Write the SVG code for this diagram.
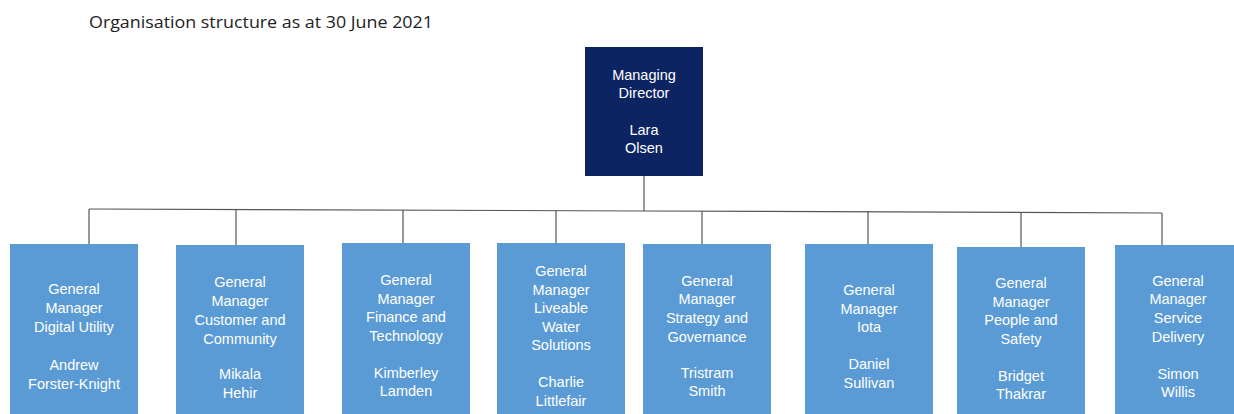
<svg xmlns="http://www.w3.org/2000/svg" width="1234" height="414" viewBox="0 0 1234 414">
<style>
.title{font-family:"Open Sans","Liberation Sans",sans-serif;font-size:16.5px;fill:#222}
.md{fill:#0c2461}
.gm{fill:#5b9bd5}
.t{font-family:"Liberation Sans",Arial,sans-serif;font-size:14.5px;fill:#fff;text-anchor:middle}
.c{stroke:#555;stroke-width:1.2;fill:none}
</style>
<rect width="1234" height="414" fill="#fff"/>
<text class="title" x="89" y="28" textLength="344" lengthAdjust="spacingAndGlyphs">Organisation structure as at 30 June 2021</text>
<g id="connectors">
<path class="c" d="M644 176V211"/>
<path class="c" d="M89 209L644 211L1162 213"/>
<path class="c" d="M89 209V244"/>
<path class="c" d="M236 209.5V245"/>
<path class="c" d="M403 210V243"/>
<path class="c" d="M556 210.5V243"/>
<path class="c" d="M702 211V244"/>
<path class="c" d="M868 211.5V244"/>
<path class="c" d="M1021 212V247"/>
<path class="c" d="M1162 213V245"/>
</g>
<g id="md">
<rect class="md" x="585" y="47" width="118" height="129"/>
<text class="t" x="644" y="80">Managing</text>
<text class="t" x="644" y="98">Director</text>
<text class="t" x="644" y="135">Lara</text>
<text class="t" x="644" y="153">Olsen</text>
</g>
<g id="gm1">
<rect class="gm" x="10" y="244" width="128" height="172"/>
<text class="t" x="74" y="294">General</text>
<text class="t" x="74" y="313">Manager</text>
<text class="t" x="74" y="332">Digital Utility</text>
<text class="t" x="74" y="370">Andrew</text>
<text class="t" x="74" y="389">Forster-Knight</text>
</g>
<g id="gm2">
<rect class="gm" x="176" y="245" width="128" height="171"/>
<text class="t" x="240" y="287">General</text>
<text class="t" x="240" y="306">Manager</text>
<text class="t" x="240" y="325">Customer and</text>
<text class="t" x="240" y="344">Community</text>
<text class="t" x="240" y="379">Mikala</text>
<text class="t" x="240" y="398">Hehir</text>
</g>
<g id="gm3">
<rect class="gm" x="342" y="243" width="128" height="173"/>
<text class="t" x="406" y="285">General</text>
<text class="t" x="406" y="304">Manager</text>
<text class="t" x="406" y="322">Finance and</text>
<text class="t" x="406" y="341">Technology</text>
<text class="t" x="406" y="378">Kimberley</text>
<text class="t" x="406" y="396">Lamden</text>
</g>
<g id="gm4">
<rect class="gm" x="497" y="243" width="128" height="173"/>
<text class="t" x="561" y="276">General</text>
<text class="t" x="561" y="295">Manager</text>
<text class="t" x="561" y="313">Liveable</text>
<text class="t" x="561" y="332">Water</text>
<text class="t" x="561" y="350">Solutions</text>
<text class="t" x="561" y="387">Charlie</text>
<text class="t" x="561" y="406">Littlefair</text>
</g>
<g id="gm5">
<rect class="gm" x="643" y="244" width="128" height="172"/>
<text class="t" x="707" y="286">General</text>
<text class="t" x="707" y="304">Manager</text>
<text class="t" x="707" y="323">Strategy and</text>
<text class="t" x="707" y="342">Governance</text>
<text class="t" x="707" y="378">Tristram</text>
<text class="t" x="707" y="396">Smith</text>
</g>
<g id="gm6">
<rect class="gm" x="805" y="244" width="128" height="172"/>
<text class="t" x="869" y="295">General</text>
<text class="t" x="869" y="314">Manager</text>
<text class="t" x="869" y="332">Iota</text>
<text class="t" x="869" y="369">Daniel</text>
<text class="t" x="869" y="388">Sullivan</text>
</g>
<g id="gm7">
<rect class="gm" x="957" y="247" width="128" height="169"/>
<text class="t" x="1021" y="288">General</text>
<text class="t" x="1021" y="307">Manager</text>
<text class="t" x="1021" y="325">People and</text>
<text class="t" x="1021" y="344">Safety</text>
<text class="t" x="1021" y="381">Bridget</text>
<text class="t" x="1021" y="399">Thakrar</text>
</g>
<g id="gm8">
<rect class="gm" x="1115" y="245" width="125" height="171"/>
<text class="t" x="1178" y="286">General</text>
<text class="t" x="1178" y="304">Manager</text>
<text class="t" x="1178" y="323">Service</text>
<text class="t" x="1178" y="342">Delivery</text>
<text class="t" x="1178" y="379">Simon</text>
<text class="t" x="1178" y="397">Willis</text>
</g>
</svg>
